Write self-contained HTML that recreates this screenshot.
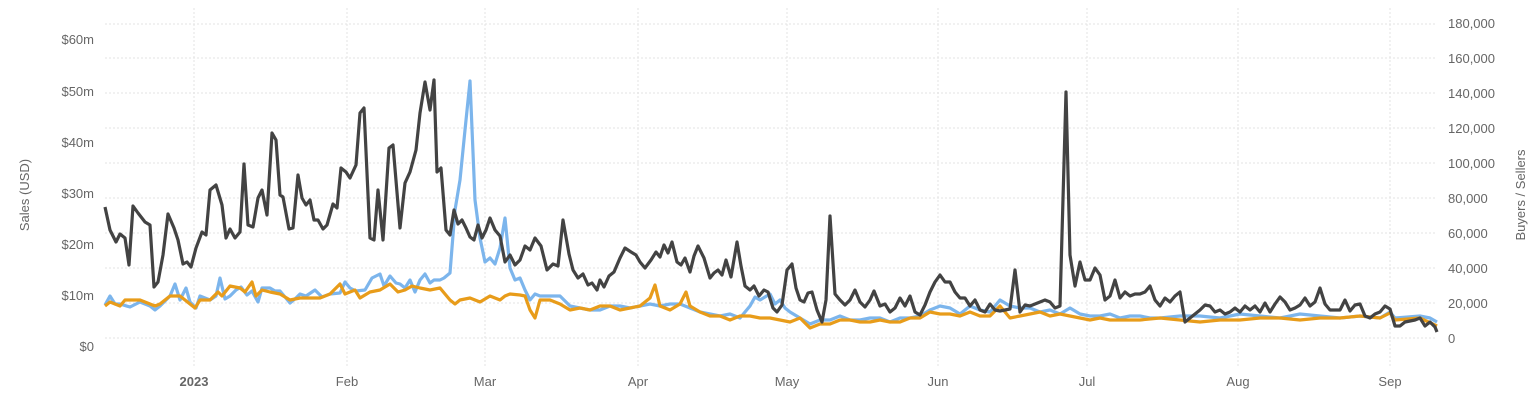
<!DOCTYPE html>
<html><head><meta charset="utf-8"><style>
body{margin:0;background:#fff;width:1536px;height:408px;overflow:hidden}
text{font-family:"Liberation Sans",sans-serif;fill:#666;font-size:13px}
</style></head><body>
<svg width="1536" height="408" viewBox="0 0 1536 408" xmlns="http://www.w3.org/2000/svg">
<g stroke="#e3e3e3" stroke-dasharray="2,2" stroke-width="1">
<line x1="105" x2="1437" y1="24" y2="24"/><line x1="105" x2="1437" y1="58" y2="58"/><line x1="105" x2="1437" y1="93" y2="93"/><line x1="105" x2="1437" y1="128" y2="128"/><line x1="105" x2="1437" y1="163" y2="163"/><line x1="105" x2="1437" y1="198" y2="198"/><line x1="105" x2="1437" y1="233" y2="233"/><line x1="105" x2="1437" y1="268" y2="268"/><line x1="105" x2="1437" y1="303" y2="303"/><line x1="105" x2="1437" y1="338" y2="338"/>
<line x1="194" x2="194" y1="8" y2="366"/><line x1="347" x2="347" y1="8" y2="366"/><line x1="485" x2="485" y1="8" y2="366"/><line x1="638" x2="638" y1="8" y2="366"/><line x1="787" x2="787" y1="8" y2="366"/><line x1="938" x2="938" y1="8" y2="366"/><line x1="1087" x2="1087" y1="8" y2="366"/><line x1="1238" x2="1238" y1="8" y2="366"/><line x1="1390" x2="1390" y1="8" y2="366"/>
</g>
<g text-anchor="end">
<text x="94" y="44">$60m</text><text x="94" y="96">$50m</text><text x="94" y="147">$40m</text><text x="94" y="198">$30m</text><text x="94" y="249">$20m</text><text x="94" y="300">$10m</text><text x="94" y="351">$0</text>
</g>
<g>
<text x="1448" y="28">180,000</text><text x="1448" y="63">160,000</text><text x="1448" y="98">140,000</text><text x="1448" y="133">120,000</text><text x="1448" y="168">100,000</text><text x="1448" y="203">80,000</text><text x="1448" y="238">60,000</text><text x="1448" y="273">40,000</text><text x="1448" y="308">20,000</text><text x="1448" y="343">0</text>
</g>
<g text-anchor="middle">
<text x="194" y="386" font-weight="bold" fill="#555">2023</text><text x="347" y="386">Feb</text><text x="485" y="386">Mar</text><text x="638" y="386">Apr</text><text x="787" y="386">May</text><text x="938" y="386">Jun</text><text x="1087" y="386">Jul</text><text x="1238" y="386">Aug</text><text x="1390" y="386">Sep</text>
</g>
<text transform="translate(29,195) rotate(-90)" text-anchor="middle" font-size="15" fill="#555">Sales (USD)</text>
<text transform="translate(1525,195) rotate(-90)" text-anchor="middle" font-size="15" fill="#555">Buyers / Sellers</text>
<g fill="none" stroke-width="3.2" stroke-linejoin="round">
<polyline stroke="#7cb5ec" points="105,305 110,296 115,304 120,304 130,307 140,302 150,306 155,310 160,306 170,296 175,284 180,300 186,288 190,302 196,308 200,296 210,300 216,296 220,278 225,299 230,296 236,290 241,287 247,295 252,291 258,302 262,288 270,288 275,291 280,291 290,303 296,298 300,294 306,296 315,290 322,297 330,294 340,293 345,282 350,288 356,291 365,290 372,278 380,274 384,286 390,276 396,283 400,284 405,288 410,280 415,292 420,280 425,274 430,283 434,280 440,280 444,278 450,273 455,210 460,180 465,130 470,81 475,200 480,238 485,262 490,258 495,264 500,248 505,218 510,268 515,280 520,278 525,290 530,300 535,294 540,296 550,296 560,296 570,306 580,308 590,310 600,310 610,306 620,306 630,308 640,306 650,304 660,306 670,304 680,304 690,308 700,312 710,314 720,316 730,314 740,318 750,306 755,297 760,300 770,294 775,304 780,300 785,308 790,312 800,318 810,324 820,320 830,320 840,316 850,320 860,320 870,318 880,318 890,322 900,318 910,318 920,316 930,310 940,306 950,308 960,314 970,306 980,310 990,312 1000,300 1010,306 1020,308 1030,308 1040,312 1050,310 1060,314 1070,308 1080,314 1090,316 1100,316 1110,314 1120,318 1130,316 1140,316 1150,318 1160,318 1180,316 1200,316 1220,318 1240,314 1260,316 1280,318 1300,314 1320,316 1340,318 1360,316 1380,318 1390,312 1395,318 1420,316 1430,318 1437,322"/>
<polyline stroke="#e89c1a" points="105,306 110,302 120,306 125,300 140,300 150,304 155,306 160,304 170,296 180,296 190,304 195,308 200,300 210,300 218,292 222,296 230,286 240,288 245,292 252,282 256,296 262,290 270,292 280,294 290,300 300,298 310,298 320,298 330,294 340,284 345,294 350,292 355,290 360,298 370,292 380,290 390,284 398,292 405,290 412,286 420,288 430,290 440,288 450,300 455,304 460,300 470,298 480,302 490,296 500,300 505,296 510,294 520,295 525,296 530,310 535,318 540,300 550,300 560,304 570,310 580,308 590,310 600,306 610,306 620,310 630,308 640,306 650,298 655,285 660,306 670,310 680,304 686,292 690,306 700,312 710,316 720,316 730,320 740,316 750,316 760,318 770,318 780,320 790,322 800,318 810,328 820,324 830,324 840,320 850,320 860,322 870,322 880,320 890,322 900,322 910,318 920,318 930,312 940,314 950,314 960,316 970,312 980,316 990,316 1000,306 1010,318 1020,316 1030,314 1040,312 1050,316 1060,314 1070,316 1080,318 1090,320 1100,318 1110,320 1120,320 1140,320 1160,318 1180,320 1200,322 1220,320 1240,320 1260,318 1280,318 1300,320 1320,318 1340,318 1360,316 1380,318 1390,313 1395,320 1420,318 1437,326"/>
<polyline stroke="#434343" points="105,207 110,230 116,242 120,234 125,238 129,265 133,206 138,213 145,222 150,225 154,287 158,282 163,255 168,214 174,228 178,240 183,264 187,262 191,267 196,248 202,232 206,235 210,190 216,185 222,205 226,238 230,229 235,238 240,232 244,164 248,225 253,227 258,198 262,190 267,215 272,133 276,140 280,195 283,197 289,229 293,228 298,175 302,198 306,205 310,200 314,220 318,220 323,229 327,225 333,204 337,208 341,168 346,172 350,178 356,165 360,113 364,108 370,238 374,240 378,190 383,240 389,148 393,145 400,228 405,183 410,172 416,150 420,113 425,82 430,110 434,80 437,172 441,168 446,230 450,235 454,210 458,224 462,220 466,228 470,237 474,240 478,225 482,238 486,230 490,218 495,230 500,236 505,262 510,255 515,265 520,260 525,246 530,250 535,238 541,246 547,270 553,264 558,266 563,220 569,254 573,270 578,278 583,274 588,285 592,283 597,290 600,280 604,287 609,276 614,272 620,258 625,248 631,252 636,255 640,262 645,268 651,260 656,252 660,257 664,245 668,253 672,242 677,262 681,265 685,258 690,272 694,256 698,246 704,258 710,278 714,273 718,270 722,275 726,260 731,277 737,242 741,266 745,286 750,290 754,286 759,296 764,290 768,292 773,308 777,312 782,305 787,270 792,264 796,288 800,300 804,302 808,293 812,292 817,310 822,322 826,300 830,216 835,294 840,300 845,305 850,300 855,290 860,302 865,307 870,300 874,291 880,306 885,304 890,312 895,308 900,298 905,306 910,296 915,312 920,315 925,305 930,292 935,282 940,275 945,282 950,282 955,292 960,298 965,298 970,306 975,300 980,310 985,312 990,304 995,310 1000,311 1005,310 1010,309 1015,270 1020,312 1025,305 1030,306 1035,304 1040,302 1045,300 1050,302 1055,308 1060,306 1066,92 1070,255 1075,286 1080,262 1085,280 1090,280 1095,268 1100,275 1105,300 1110,296 1115,280 1120,298 1125,292 1130,296 1135,294 1140,294 1145,292 1150,286 1155,300 1160,306 1165,298 1170,302 1175,296 1180,292 1185,322 1190,318 1195,314 1200,310 1205,305 1210,306 1215,312 1220,310 1225,314 1230,312 1235,308 1240,312 1245,306 1250,310 1255,306 1260,312 1265,303 1270,312 1275,304 1280,297 1285,302 1290,310 1295,308 1300,305 1305,298 1310,306 1315,302 1320,288 1325,304 1330,310 1335,310 1340,310 1345,300 1350,311 1355,305 1360,304 1365,316 1370,318 1375,314 1380,312 1385,306 1390,309 1395,326 1400,326 1405,322 1410,321 1415,320 1420,318 1425,326 1430,322 1435,327 1437,332"/>
</g>
</svg>
</body></html>
